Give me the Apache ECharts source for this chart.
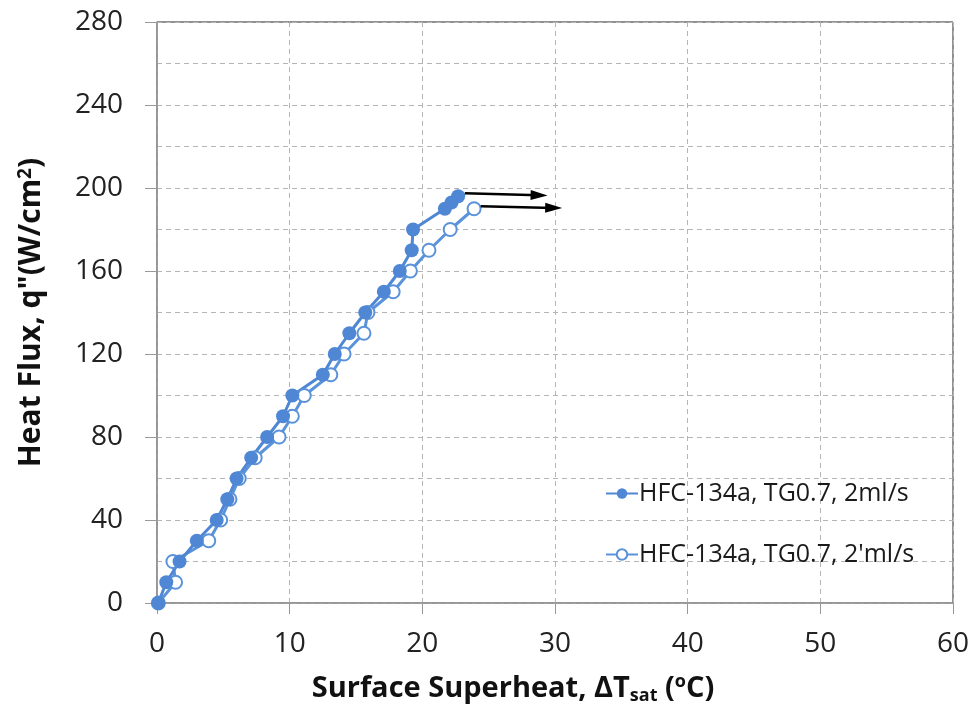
<!DOCTYPE html>
<html>
<head>
<meta charset="utf-8">
<script src="https://cdn.jsdelivr.net/npm/echarts@6/dist/echarts.min.js"></script>
<style>
  html, body { margin: 0; padding: 0; background: #fff; }
  #chart { width: 976px; height: 721px; }
</style>
</head>
<body>
<div id="chart"></div>
<script>
// series names
var seriesNames = ["HFC-134a, TG0.7, 2ml/s", "HFC-134a, TG0.7, 2'ml/s"];

// filled markers: superheat (oC) and heat flux (W/cm2)
var filledX = [0.1, 0.7, 1.7, 3.0, 4.5, 5.3, 6.0, 7.1, 8.3, 9.5, 10.2, 12.5, 13.4, 14.5, 15.7, 17.1, 18.3, 19.2, 19.3, 21.7, 22.2, 22.7];
var filledY = [0, 10, 20, 30, 40, 50, 60, 70, 80, 90, 100, 110, 120, 130, 140, 150, 160, 170, 180, 190, 193, 196];

// open markers
var openX = [0.1, 1.4, 1.2, 3.9, 4.8, 5.5, 6.2, 7.4, 9.2, 10.2, 11.1, 13.1, 14.1, 15.6, 15.9, 17.8, 19.1, 20.5, 22.1, 23.9];
var openY = [0, 10, 20, 30, 40, 50, 60, 70, 80, 90, 100, 110, 120, 130, 140, 150, 160, 170, 180, 190];

// arrows after the last points: [x0, y0, x1, y1]
var arrowFilled = [23.2, 197.5, 28.8, 196.5];
var arrowOpen = [24.4, 191.2, 29.9, 190.4];

var fontFamily = "'Open Sans', 'Noto Sans', sans-serif";

function pairs(xs, ys) {
    return xs.map(function (x, i) { return [x, ys[i]]; });
}

function arrowLine(a) {
    return [{ coord: [a[0], a[1]] }, { coord: [a[2], a[3]] }];
}

var chart = echarts.init(document.getElementById("chart"));

var option = {
    animation: false,
    textStyle: { fontFamily: fontFamily },
    grid: {
        left: 157,
        right: 23,
        top: 22,
        bottom: 118,
        show: true,
        borderColor: "#222",
        borderWidth: 1
    },
    legend: {
        orient: "vertical",
        left: 600,
        top: 476,
        itemGap: 36,
        itemWidth: 32,
        itemHeight: 13,
        data: seriesNames,
        textStyle: { fontSize: 25, color: "#1a1a1a", fontFamily: fontFamily, padding: [0, 0, 0, -4] }
    },
    xAxis: {
        type: "value",
        min: 0,
        max: 60,
        interval: 10,
        name: "Surface Superheat, ΔT{sub|sat} ({sup|o}C)",
        nameLocation: "middle",
        nameGap: 70,
        nameTextStyle: {
            fontSize: 29,
            fontWeight: "bold",
            color: "#111",
            padding: [0, 84, 0, 0],
            rich: {
                sub: { fontSize: 18, fontWeight: "bold", verticalAlign: "bottom", padding: [14, 0, 0, 0] },
                sup: { fontSize: 18, fontWeight: "bold", verticalAlign: "top", padding: [0, 0, 12, 0] }
            }
        },
        axisLine: { lineStyle: { color: "#999", width: 1.5 } },
        axisTick: { show: true, length: 11, lineStyle: { color: "#999" } },
        axisLabel: { fontSize: 28, color: "#222", margin: 27 },
        splitLine: { show: true, lineStyle: { color: "#b5b5b5", type: [5, 4] } }
    },
    yAxis: {
        type: "value",
        min: 0,
        max: 280,
        interval: 40,
        name: "Heat Flux, q\"(W/cm{sup|2})",
        nameLocation: "middle",
        nameGap: 110,
        nameTextStyle: {
            fontSize: 30,
            fontWeight: "bold",
            color: "#111",
            rich: {
                sup: { fontSize: 19, fontWeight: "bold", verticalAlign: "top", padding: [0, 0, 12, 0] }
            }
        },
        axisLine: { show: true, lineStyle: { color: "#999", width: 1.5 } },
        axisTick: { show: true, length: 12, lineStyle: { color: "#999" } },
        axisLabel: { fontSize: 28, color: "#222", margin: 34 },
        splitLine: { show: true, lineStyle: { color: "#b5b5b5", type: [5, 4] } },
        minorTick: { show: false, splitNumber: 2 },
        minorSplitLine: { show: true, lineStyle: { color: "#b5b5b5", type: [5, 4] } }
    },
    series: [
        {
            name: seriesNames[1],
            type: "line",
            data: pairs(openX, openY),
            symbol: "emptyCircle",
            symbolSize: 13,
            color: "#5a93da",
            lineStyle: { width: 3, color: "#5a93da" },
            itemStyle: { borderWidth: 3, color: "#5a93da" },
            markLine: {
                silent: true,
                symbol: ["none", "triangle"],
                symbolSize: [10, 17],
                label: { show: false },
                lineStyle: { color: "#000", width: 2.5, type: "solid" },
                data: [arrowLine(arrowOpen)]
            }
        },
        {
            name: seriesNames[0],
            type: "line",
            data: pairs(filledX, filledY),
            symbol: "circle",
            symbolSize: 14,
            color: "#4f87d4",
            lineStyle: { width: 3, color: "#4f87d4" },
            itemStyle: { color: "#4f87d4" },
            markLine: {
                silent: true,
                symbol: ["none", "triangle"],
                symbolSize: [10, 17],
                label: { show: false },
                lineStyle: { color: "#000", width: 2.5, type: "solid" },
                data: [arrowLine(arrowFilled)]
            }
        }
    ]
};

chart.setOption(option);
</script>
</body>
</html>
